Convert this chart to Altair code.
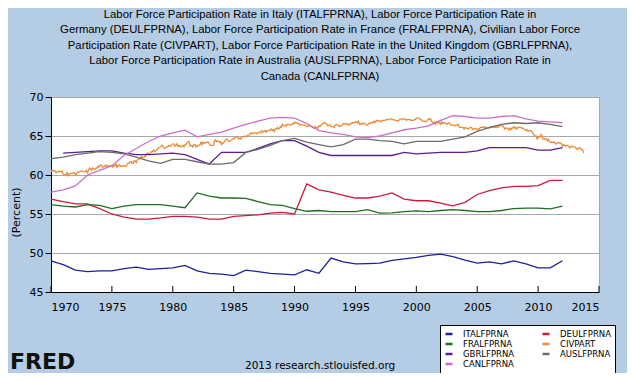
import altair as alt
import pandas as pd

# ---------------- data ----------------
years = list(range(1970, 2013))
ita = [49.0, 48.5, 47.8, 47.6, 47.7, 47.7, 48.0, 48.2, 47.9, 48.0,
       48.1, 48.4, 47.7, 47.4, 47.3, 47.1, 47.8, 47.6, 47.4, 47.3,
       47.2, 47.85, 47.4, 49.35, 48.85, 48.6, 48.65, 48.7, 49.05, 49.25,
       49.45, 49.7, 49.85, 49.55, 49.1, 48.7, 48.85, 48.6, 49.0, 48.6,
       48.1, 48.1, 49.0]
deu = [56.9, 56.6, 56.3, 56.3, 55.7, 55.0, 54.6, 54.35, 54.35, 54.5,
       54.7, 54.7, 54.6, 54.35, 54.35, 54.7, 54.8, 54.9, 55.1, 55.2,
       55.0, 58.85, 58.1, 57.8, 57.4, 57.05, 57.05, 57.3, 57.7, 56.9,
       56.7, 56.7, 56.4, 56.05, 56.5, 57.5, 58.0, 58.35, 58.55, 58.55,
       58.65, 59.3, 59.3]
fra = [56.2, 56.0, 55.9, 56.2, 56.1, 55.7, 56.0, 56.2, 56.2, 56.2,
       56.0, 55.8, 57.7, 57.3, 57.05, 57.05, 57.0, 56.6, 56.2, 56.1,
       55.7, 55.35, 55.45, 55.3, 55.3, 55.3, 55.55, 55.1, 55.15, 55.3,
       55.4, 55.3, 55.45, 55.55, 55.45, 55.3, 55.3, 55.45, 55.7, 55.75,
       55.75, 55.65, 56.0]
gbr_years = list(range(1971, 2013))
gbr = [62.8, 62.9, 63.0, 63.1, 63.1, 62.8, 62.6, 62.6, 62.7,
       62.8, 62.6, 62.0, 61.4, 62.9, 62.9, 62.9, 63.4, 64.0, 64.4,
       64.4, 63.7, 62.9, 62.5, 62.5, 62.5, 62.5, 62.5, 62.5, 62.9,
       62.7, 62.8, 62.9, 62.9, 62.9, 63.1, 63.5, 63.5, 63.5, 63.5,
       63.2, 63.2, 63.5]
aus = [62.1, 62.3, 62.6, 62.8, 63.0, 62.9, 62.7, 62.3, 61.8, 61.5,
       62.0, 62.0, 61.7, 61.4, 61.4, 61.6, 62.9, 63.3, 63.8, 64.4,
       64.7, 64.2, 63.9, 63.6, 63.9, 64.6, 64.6, 64.4, 64.3, 64.0,
       64.3, 64.3, 64.3, 64.6, 64.9, 65.6, 66.1, 66.5, 66.7, 66.6,
       66.7, 66.5, 66.2]
can = [57.8, 58.1, 58.6, 60.0, 60.6, 61.2, 62.5, 63.4, 64.3, 65.0,
       65.4, 65.75, 64.9, 65.2, 65.5, 66.0, 66.5, 66.9, 67.3, 67.4,
       67.3, 66.6, 65.7, 65.4, 65.2, 64.9, 64.8, 65.0, 65.4, 65.8,
       66.0, 66.3, 67.0, 67.6, 67.5, 67.3, 67.3, 67.5, 67.6, 67.2,
       66.9, 66.8, 66.7]
# CIVPART, monthly from January 1970
civpart = [
    60.4, 60.6, 60.5, 60.6, 60.5, 60.3, 60.4, 60.4, 60.5, 60.4, 60.4, 60.5,
    60.1, 60.0, 60.0, 60.1, 60.3, 59.9, 60.1, 60.2, 60.2, 60.2, 60.3, 60.3,
    60.0, 60.1, 60.4, 60.4, 60.4, 60.5, 60.5, 60.5, 60.4, 60.4, 60.4, 60.6,
    60.3, 60.6, 60.9, 60.8, 60.6, 60.9, 60.8, 60.7, 60.8, 60.9, 61.1, 61.0,
    61.2, 61.3, 61.2, 61.0, 61.1, 61.1, 61.3, 61.1, 61.2, 61.2, 61.1, 61.2,
    61.2, 61.0, 61.2, 61.2, 61.4, 61.0, 61.2, 61.3, 61.2, 61.1, 61.1, 61.2,
    61.2, 61.1, 61.1, 61.4, 61.5, 61.5, 61.7, 61.7, 61.5, 61.5, 61.8, 61.8,
    61.6, 61.9, 62.0, 62.1, 62.1, 62.4, 62.2, 62.3, 62.3, 62.4, 62.7, 62.8,
    62.8, 62.7, 62.8, 63.0, 63.0, 63.2, 63.0, 63.1, 63.2, 63.3, 63.5, 63.5,
    63.6, 63.8, 63.8, 63.5, 63.4, 63.5, 63.6, 63.6, 63.8, 63.7, 63.7, 63.9,
    64.0, 64.0, 63.7, 63.8, 64.0, 63.7, 63.8, 63.7, 63.6, 63.7, 63.8, 63.6,
    63.9, 63.9, 64.1, 64.2, 64.3, 63.7, 63.8, 63.8, 63.6, 63.9, 63.9, 63.6,
    63.7, 63.8, 63.8, 63.9, 64.2, 63.9, 64.2, 64.1, 64.1, 64.2, 64.2, 64.2,
    64.0, 63.8, 63.8, 63.8, 63.8, 64.3, 64.5, 64.3, 64.4, 64.3, 64.2, 64.3,
    63.9, 64.1, 64.1, 64.3, 64.5, 64.6, 64.6, 64.3, 64.3, 64.4, 64.5, 64.6,
    64.7, 64.7, 64.9, 64.9, 64.8, 64.6, 64.7, 64.6, 64.9, 64.9, 64.9, 65.0,
    64.9, 65.0, 65.1, 65.1, 65.2, 65.4, 65.4, 65.3, 65.4, 65.4, 65.4, 65.3,
    65.4, 65.5, 65.5, 65.4, 65.7, 65.5, 65.6, 65.7, 65.5, 65.7, 65.7, 65.7,
    65.8, 65.9, 65.7, 65.8, 65.6, 65.9, 65.9, 66.1, 65.9, 66.0, 66.2, 66.1,
    66.5, 66.3, 66.3, 66.4, 66.3, 66.5, 66.5, 66.5, 66.4, 66.5, 66.6, 66.5,
    66.8, 66.7, 66.7, 66.6, 66.6, 66.4, 66.5, 66.5, 66.4, 66.4, 66.4, 66.4,
    66.2, 66.2, 66.3, 66.4, 66.2, 66.2, 66.1, 66.0, 66.2, 66.1, 66.1, 66.0,
    66.3, 66.2, 66.4, 66.5, 66.6, 66.7, 66.7, 66.6, 66.4, 66.3, 66.4, 66.4,
    66.2, 66.2, 66.2, 66.1, 66.4, 66.5, 66.4, 66.4, 66.2, 66.3, 66.3, 66.4,
    66.6, 66.6, 66.5, 66.5, 66.6, 66.4, 66.4, 66.6, 66.6, 66.7, 66.7, 66.7,
    66.8, 66.8, 66.7, 66.9, 66.5, 66.5, 66.6, 66.6, 66.6, 66.6, 66.5, 66.4,
    66.4, 66.6, 66.6, 66.7, 66.7, 66.7, 66.9, 66.7, 66.9, 67.0, 66.9, 67.0,
    66.9, 66.8, 67.0, 67.0, 67.0, 67.0, 67.1, 67.1, 67.1, 67.1, 67.2, 67.2,
    67.1, 67.1, 67.1, 67.0, 67.0, 67.0, 66.9, 67.0, 67.2, 67.2, 67.1, 67.2,
    67.2, 67.2, 67.0, 67.1, 67.1, 67.1, 67.1, 67.0, 67.0, 67.0, 67.1, 67.1,
    67.3, 67.3, 67.3, 67.3, 67.1, 67.1, 66.9, 66.9, 66.9, 66.8, 66.9, 67.0,
    67.2, 67.1, 67.2, 66.9, 66.7, 66.7, 66.8, 66.5, 66.8, 66.7, 66.7, 66.7,
    66.5, 66.8, 66.6, 66.7, 66.7, 66.6, 66.5, 66.6, 66.7, 66.6, 66.4, 66.4,
    66.4, 66.4, 66.3, 66.4, 66.4, 66.5, 66.2, 66.1, 66.1, 66.1, 66.1, 65.9,
    66.1, 66.0, 66.0, 65.9, 66.0, 66.1, 66.1, 66.0, 65.8, 65.9, 66.0, 65.9,
    65.8, 65.9, 65.9, 66.1, 66.1, 66.1, 66.1, 66.2, 66.1, 66.1, 66.0, 66.0,
    66.0, 66.1, 66.2, 66.1, 66.1, 66.2, 66.1, 66.2, 66.1, 66.2, 66.3, 66.4,
    66.4, 66.3, 66.2, 65.9, 66.0, 66.0, 66.0, 65.8, 66.0, 65.8, 66.0, 66.0,
    66.2, 66.0, 66.1, 65.9, 66.1, 66.1, 66.1, 66.1, 66.0, 66.0, 65.9, 65.8,
    65.7, 65.8, 65.6, 65.7, 65.7, 65.7, 65.5, 65.4, 65.1, 65.0, 65.0, 64.6,
    64.8, 64.9, 64.9, 65.2, 64.9, 64.6, 64.6, 64.7, 64.6, 64.4, 64.6, 64.3,
    64.2, 64.2, 64.2, 64.2, 64.2, 64.0, 64.0, 64.1, 64.2, 64.1, 64.1, 64.0,
    63.7, 63.9, 63.8, 63.7, 63.8, 63.8, 63.7, 63.5, 63.6, 63.7, 63.6, 63.6,
    63.6, 63.5, 63.3, 63.4, 63.4, 63.5, 63.4, 63.2, 63.2, 62.8,
]

series_names = ["ITALFPRNA", "DEULFPRNA", "FRALFPRNA", "CIVPART",
                "GBRLFPRNA", "AUSLFPRNA", "CANLFPRNA"]
series_colors = ["#1F1FA3", "#CC1A3A", "#226B22", "#EB8A33",
                 "#5A1E96", "#6B6B6B", "#C870C8"]
x_tick_values = [1970, 1975, 1980, 1985, 1990, 1995, 2000, 2005, 2010, 2015]
y_tick_values = [45, 50, 55, 60, 65, 70]
title_lines = [
    "Labor Force Participation Rate in Italy (ITALFPRNA), Labor Force Participation Rate in",
    "Germany (DEULFPRNA), Labor Force Participation Rate in France (FRALFPRNA), Civilian Labor Force",
    "Participation Rate (CIVPART), Labor Force Participation Rate in the United Kingdom (GBRLFPRNA),",
    "Labor Force Participation Rate in Australia (AUSLFPRNA), Labor Force Participation Rate in",
    "Canada (CANLFPRNA)",
]

# ---------------- build the long table ----------------
rows = []
for name, xs, vs in [("ITALFPRNA", years, ita), ("DEULFPRNA", years, deu),
                     ("FRALFPRNA", years, fra)]:
    rows += [{"series": name, "t": x, "v": v} for x, v in zip(xs, vs)]
rows += [{"series": "CIVPART", "t": 1970 + i / 12.0, "v": v} for i, v in enumerate(civpart)]
for name, xs, vs in [("GBRLFPRNA", gbr_years, gbr), ("AUSLFPRNA", years, aus),
                     ("CANLFPRNA", years, can)]:
    rows += [{"series": name, "t": x, "v": v} for x, v in zip(xs, vs)]
df = pd.DataFrame(rows)

W, H = 548, 195
xscale = alt.Scale(domain=[1970, 2015], nice=False, zero=False)
yscale = alt.Scale(domain=[45, 70], nice=False, zero=False)

lines = alt.Chart(df).mark_line(strokeWidth=1.3).encode(
    x=alt.X("t:Q", scale=xscale,
            axis=alt.Axis(values=x_tick_values, format="d", title=None, grid=False,
                          ticks=False, labelPadding=9, domainColor="#000000",
                          labelFont="DejaVu Sans", labelFontSize=11, labelColor="#000000")),
    y=alt.Y("v:Q", scale=yscale,
            axis=alt.Axis(values=y_tick_values, title="(Percent)", grid=True,
                          gridColor="#A8A8A8", tickColor="#000000", tickSize=6,
                          domainColor="#000000", labelFont="DejaVu Sans",
                          labelFontSize=11, labelColor="#000000", labelPadding=2,
                          titleFont="DejaVu Sans", titleFontSize=11,
                          titleFontWeight="normal", titleColor="#000000",
                          titleX=-35, titleY=115, titleBaseline="middle")),
    color=alt.Color("series:N", title=None,
                    scale=alt.Scale(domain=series_names, range=series_colors),
                    sort=series_names,
                    legend=alt.Legend(orient="none", legendX=389, legendY=228,
                                      columns=2, direction="horizontal",
                                      fillColor="#FFFFFF", strokeColor="#000000",
                                      padding=4, columnPadding=22, rowPadding=0,
                                      symbolType="stroke", symbolSize=49,
                                      symbolStrokeWidth=2.5, labelOffset=9,
                                      labelFont="DejaVu Sans", labelFontSize=8.5,
                                      labelColor="#000000")),
)

ticks_df = pd.DataFrame({"t": x_tick_values})
xticks = alt.Chart(ticks_df).mark_rule(color="#000000", strokeWidth=1).encode(
    x=alt.X("t:Q", scale=xscale),
    y=alt.value(H),
    y2=alt.value(H - 6),
)

fred = alt.Chart(pd.DataFrame({"s": ["FRED"]})).mark_text(
    font="DejaVu Sans", fontSize=22, fontWeight="bold", align="left",
    baseline="alphabetic", color="#111111").encode(
    x=alt.value(-41), y=alt.value(272), text="s:N")

credit = alt.Chart(pd.DataFrame({"s": ["2013 research.stlouisfed.org"]})).mark_text(
    font="DejaVu Sans", fontSize=10.5, align="left", baseline="alphabetic",
    color="#000000").encode(
    x=alt.value(194), y=alt.value(272), text="s:N")

chart = alt.layer(lines, xticks, fred, credit).properties(
    width=W, height=H,
    title=alt.TitleParams(text=title_lines, font="Liberation Sans", fontSize=11.3,
                          fontWeight="normal", color="#000000", lineHeight=15.5,
                          anchor="middle", offset=9, dx=-5),
    autosize=alt.AutoSizeParams(type="none"),
    padding={"left": 43, "top": 89, "right": 28, "bottom": 81},
    background="#B4CDE4",
).configure_view(fill="#FFFFFF", stroke="#A8A8A8")

chart.save("out.html", embed_options={"renderer": "svg", "actions": False})
